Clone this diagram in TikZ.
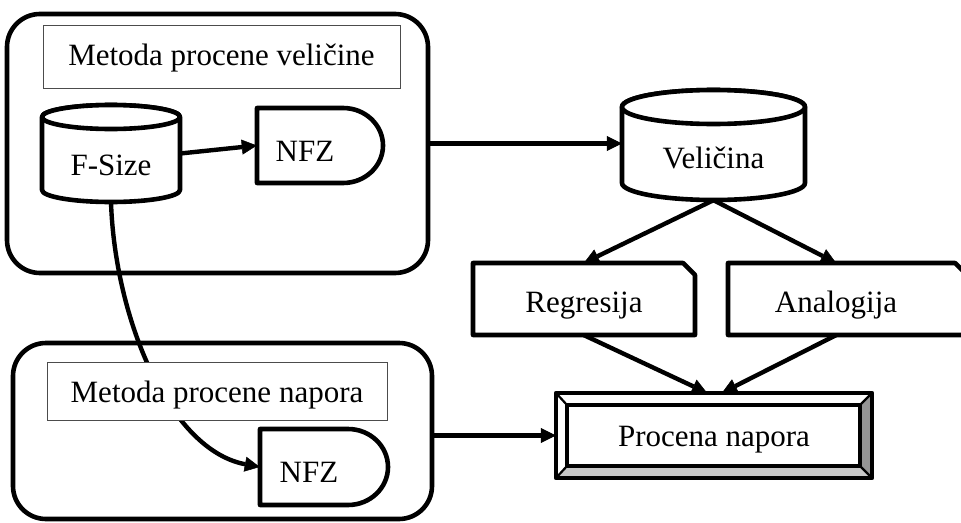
\documentclass[tikz,border=0pt]{standalone}
\usepackage{fontspec}
\setmainfont{Liberation Serif}
\usetikzlibrary{arrows.meta,calc}
\begin{document}
\begin{tikzpicture}[x=1pt,y=-1pt,
  every node/.style={font=\fontsize{31}{36}\selectfont, inner sep=0pt,
    text height=22pt, text depth=7pt},
  outline/.style={draw=black, line width=4.6pt, line join=round, fill=white},
  group/.style={draw=black, line width=4.6pt, rounded corners=33pt, fill=white},
  caption/.style={draw=black!70, line width=0.9pt, fill=white},
  flow/.style={draw=black, line width=4.4pt,
    -{Triangle[length=15pt,width=15pt,line width=0.5pt]}},
  bevelline/.style={draw=black, line width=2.2pt},
]
% canvas
\clip (0,0) rectangle (961,522);
\fill[white] (0,0) rectangle (961,522);

% method groups
\node[group, minimum width=421pt, minimum height=259pt] (sizebox) at (217.5,143.5) {};
\node[group, minimum width=419pt, minimum height=176pt] (napbox) at (222.5,431) {};

% F-Size database
\draw[outline] (42,117) -- (42,190) arc[start angle=180,end angle=0,x radius=69,y radius=12]
  -- (180,117) arc[start angle=0,end angle=-180,x radius=69,y radius=12] -- cycle;
\draw[outline] (111,117) ellipse[x radius=69,y radius=12];
\node[minimum width=138pt, minimum height=97pt, text height=50.6pt] (fsize) at (111,153.5) {F-Size};

% NFZ in the size method
\draw[outline] (257,108) -- (343,108) arc[start angle=-90,end angle=90,x radius=40,y radius=37.5]
  -- (257,183) -- cycle;
\node[minimum width=86pt, minimum height=75pt, text height=39pt, xshift=5pt] (nfz1) at (300,145.5) {NFZ};

% NFZ in the effort method
\draw[outline] (260,429) -- (348,429) arc[start angle=-90,end angle=90,x radius=40,y radius=38]
  -- (260,505) -- cycle;
\node[minimum width=88pt, minimum height=76pt, text height=37.6pt, xshift=5pt] (nfz2) at (304,467) {NFZ};

% F-Size feeds the effort method
\draw[flow] (fsize.south) .. controls (115,320) and (170,450) .. ([xshift=-5pt]nfz2.west);

% group captions
\node[caption, minimum width=357pt, minimum height=63pt, text height=24.6pt] (sizelabel) at (221.5,56.5) {Metoda procene veličine};
\node[caption, minimum width=340pt, minimum height=58pt, text height=29.6pt] (naplabel) at (217,391) {Metoda procene napora};

% size database
\draw[outline] (622,107) -- (622,183) arc[start angle=180,end angle=0,x radius=91.5,y radius=17]
  -- (805,107) arc[start angle=0,end angle=-180,x radius=91.5,y radius=17] -- cycle;
\draw[outline] (713.5,107) ellipse[x radius=91.5,y radius=17];
\node[minimum width=183pt, minimum height=110pt, text height=53.6pt] (vel) at (713.5,145) {Veličina};

% estimation models
\draw[outline] (473,263) -- (683,263) -- (695,275) -- (695,335) -- (473,335) -- cycle;
\node[minimum width=222pt, minimum height=72pt, text height=33.6pt] (reg) at (584,299) {Regresija};
\draw[outline] (728,263) -- (955,263) -- (967,275) -- (967,335) -- (728,335) -- cycle;
\node[minimum width=216pt, minimum height=72pt, text height=33.6pt] (ana) at (836,299) {Analogija};

% bevelled result box
\fill[white] (556,393) rectangle (872,478);
\fill[black!22] (556,478) -- (567,466) -- (860,466) -- (872,478) -- cycle;
\fill[black!42] (872,393) -- (860,405) -- (860,466) -- (872,478) -- cycle;
\draw[bevelline] (556,393) -- (567,405) (872,393) -- (860,405)
  (556,478) -- (567,466) (872,478) -- (860,466);
\draw[draw=black, line width=4.4pt] (567,405) rectangle (860,466);
\draw[draw=black, line width=4.6pt, line join=round] (556,393) rectangle (872,478);
\node[minimum width=316pt, minimum height=85pt, text height=28.6pt] (proc) at (714,435.5) {Procena napora};

% connectors
\draw[flow] (fsize.east) -- ([xshift=-5pt]nfz1.west);
\draw[flow] (sizebox.east) -- (sizebox.east -| vel.west);
\draw[flow] (vel.south) -- (reg.north);
\draw[flow] (vel.south) -- (ana.north);
\draw[flow] (reg.south) -- ($(proc.north)+(-7,0)$);
\draw[flow] (ana.south) -- ($(proc.north)+(8,0)$);
\draw[flow] (napbox.east |- proc.west) -- (proc.west);
\end{tikzpicture}
\end{document}
